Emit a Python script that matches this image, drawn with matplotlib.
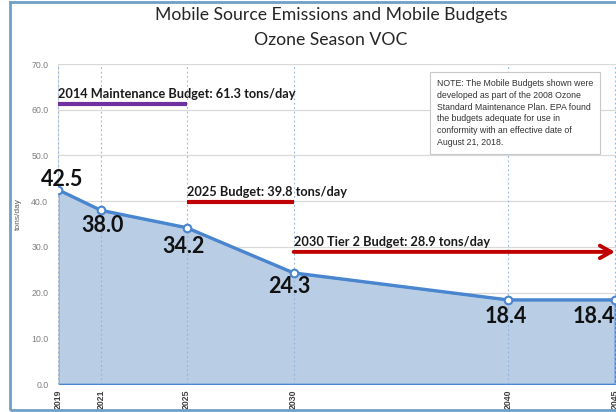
import matplotlib
matplotlib.use("Agg")
import matplotlib.pyplot as plt
from matplotlib.patches import Rectangle

years = [2019, 2021, 2025, 2030, 2040, 2045]
emissions = [42.5, 38.0, 34.2, 24.3, 18.4, 18.4]
tick_labels = ["2019", "2021", "2025", "2030", "2040", "2045"]
y_ticks = [0, 10, 20, 30, 40, 50, 60, 70]

budget_maint = 61.3
budget_2025 = 39.8
budget_2030 = 28.9

note = ("NOTE: The Mobile Budgets shown were\n"
        "developed as part of the 2008 Ozone\n"
        "Standard Maintenance Plan. EPA found\n"
        "the budgets adequate for use in\n"
        "conformity with an effective date of\n"
        "August 21, 2018.")

plt.rcParams['font.family'] = ['Lato', 'DejaVu Sans']

W, H = 616, 412
fig = plt.figure(figsize=(W / 100, H / 100), dpi=100)
ax = fig.add_axes([58 / W, (H - 384) / H, 1 - 58 / W, 320 / H])

blue = "#4a86d0"
ax.fill_between(years, emissions, 0, color="#b9cde5", edgecolor=blue, linewidth=1.2, zorder=2)
ax.plot(years, emissions, color=blue, lw=2.4, marker="o", markersize=5.5,
        markerfacecolor="white", markeredgecolor=blue, markeredgewidth=1.5, zorder=4, clip_on=True)

ax.set_xlim(2019, 2045.05)
ax.set_ylim(0, 70)
ax.set_yticks(y_ticks)
ax.set_yticklabels([f"{v:.1f}" for v in y_ticks], fontsize=6.3, color="#7f7f7f",
                   family=['Liberation Sans'])
ax.set_xticks(years)
ax.set_xticklabels(tick_labels, rotation=90, fontsize=6.3, fontweight="bold", color="#404040",
                   family=['Liberation Sans'])
ax.tick_params(length=0, pad=4)
ax.tick_params(axis='y', pad=7)
ax.set_ylabel("tons/day", fontsize=6, color="#595959", family=['Liberation Sans'])
ax.yaxis.set_label_coords(-36 / 558, 0.53)

for s in ["top", "right", "bottom"]:
    ax.spines[s].set_visible(False)
ax.spines["left"].set_color("#d9d9d9")

ax.grid(axis="y", color="#d9d9d9", lw=0.9, zorder=0)
for x in years:
    ax.axvline(x, color="#8fb4de", lw=0.8, ls=(0, (1.5, 2.5)), zorder=3)

# budgets
lab_fs = 9.2
ax.plot([2019, 2025], [budget_maint] * 2, color="#7030a0", lw=3, zorder=5, solid_capstyle="butt")
ax.annotate("2014 Maintenance Budget: 61.3 tons/day", (2019, budget_maint),
            xytext=(0, 4), textcoords="offset pixels", fontsize=lab_fs, fontweight="bold",
            ha="left", va="bottom", color="#1a1a1a")
ax.plot([2025, 2030], [budget_2025] * 2, color="#c00000", lw=3, zorder=5, solid_capstyle="butt")
ax.annotate("2025 Budget: 39.8 tons/day", (2025, budget_2025),
            xytext=(0, 4), textcoords="offset pixels", fontsize=lab_fs, fontweight="bold",
            ha="left", va="bottom", color="#1a1a1a")
ax.annotate("", xy=(2045.0, budget_2030), xytext=(2030, budget_2030),
            arrowprops=dict(arrowstyle="->,head_length=0.8,head_width=0.45", color="#c00000",
                            lw=2.8, shrinkA=0, shrinkB=0), zorder=5)
ax.annotate("2030 Tier 2 Budget: 28.9 tons/day", (2030, budget_2030),
            xytext=(0, 4), textcoords="offset pixels", fontsize=lab_fs, fontweight="bold",
            ha="left", va="bottom", color="#1a1a1a")

# data labels
offsets = [(4, 10), (2, -15), (-3, -19), (-4, -14), (-2, -17), (-21, -17)]
for x, y, off in zip(years, emissions, offsets):
    ax.annotate(f"{y:.1f}", (x, y), xytext=off, textcoords="offset pixels",
                fontsize=15.5, fontweight="bold", ha="center", va="center", color="#111111",
                zorder=6, annotation_clip=False)

# note box
fig.text(437 / W, 1 - 79 / H, note, fontsize=6.3, color="#333333", ha="left", va="top",
         linespacing=1.4, family=['Liberation Sans'],
         bbox=dict(boxstyle="square,pad=0.8", facecolor="white", edgecolor="#c8c8c8", lw=0.8),
         zorder=10)

fig.text(331 / W, 1 - 15 / H, "Mobile Source Emissions and Mobile Budgets", fontsize=12.7,
         ha="center", va="center", color="#262626")
fig.text(331 / W, 1 - 40 / H, "Ozone Season VOC", fontsize=12.7,
         ha="center", va="center", color="#262626")

fig.patches.append(Rectangle((10 / W, 2 / H), 1.0, 1 - 4 / H, transform=fig.transFigure,
                             fill=False, edgecolor="#6f9fc6", lw=2, zorder=20))

fig.savefig("out.png", dpi=100)
